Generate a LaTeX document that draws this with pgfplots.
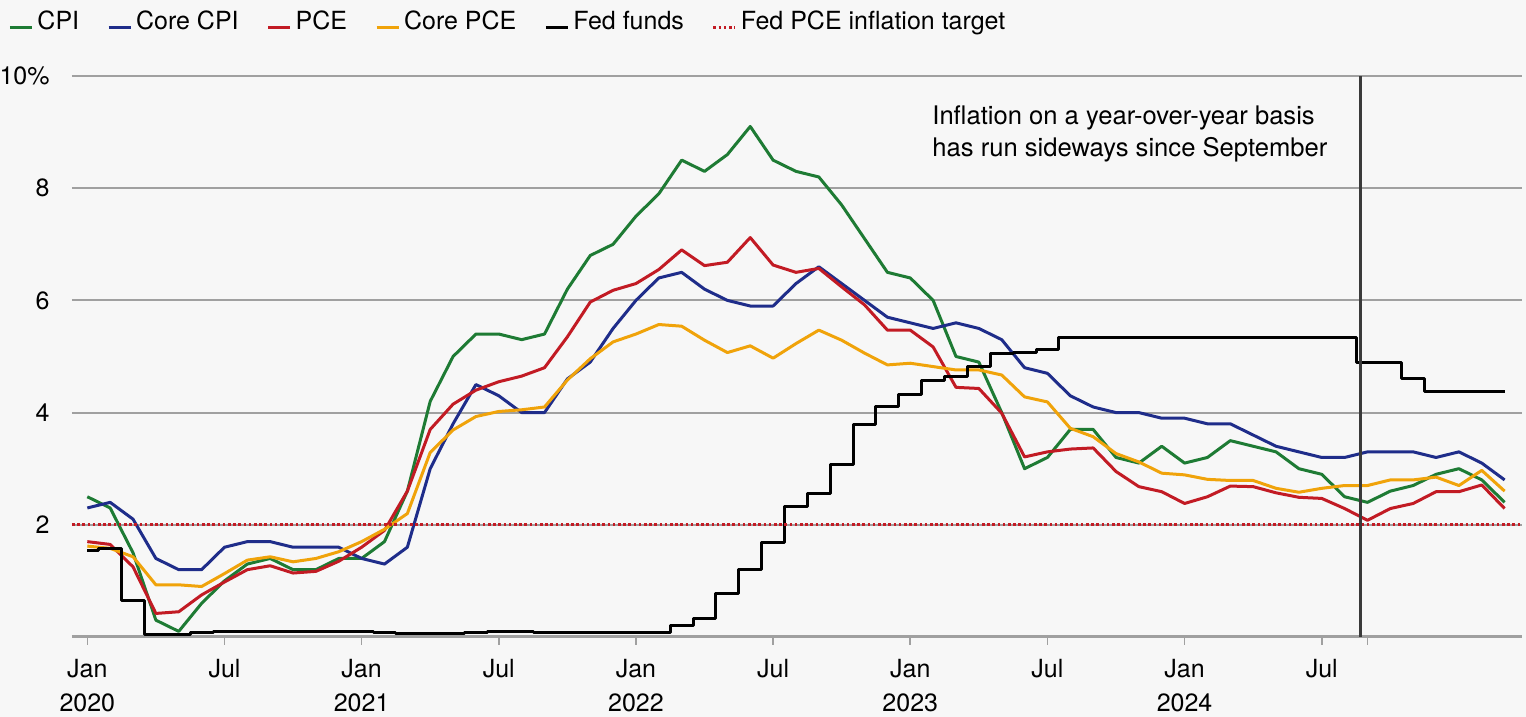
\documentclass[border=0pt]{standalone}
\usepackage{fontspec}
\setmainfont{TeX Gyre Heros}
\usepackage{pgfplots}
\usepackage{pgfplotstable}
\pgfplotsset{compat=1.18}
\definecolor{cpi}{HTML}{1E7B34}
\definecolor{corecpi}{HTML}{1F2D8A}
\definecolor{pce}{HTML}{C21B24}
\definecolor{cpce}{HTML}{F0A30A}
\definecolor{bg}{HTML}{F7F7F7}
\definecolor{gridc}{HTML}{A0A0A0}
\definecolor{vline}{HTML}{3A3A3A}

\pgfplotstableread{
m cpi core pce cpce ff
0 2.5 2.3 1.70 1.62 1.55
1 2.3 2.4 1.65 1.58 1.58
2 1.5 2.1 1.25 1.43 0.65
3 0.3 1.4 0.42 0.93 0.05
4 0.1 1.2 0.45 0.93 0.05
5 0.6 1.2 0.75 0.90 0.08
6 1.0 1.6 0.98 1.13 0.09
7 1.3 1.7 1.20 1.37 0.10
8 1.4 1.7 1.27 1.43 0.09
9 1.2 1.6 1.14 1.34 0.09
10 1.2 1.6 1.17 1.40 0.09
11 1.4 1.6 1.35 1.52 0.09
12 1.4 1.4 1.60 1.70 0.09
13 1.7 1.3 1.90 1.92 0.08
14 2.6 1.6 2.60 2.20 0.07
15 4.2 3.0 3.70 3.29 0.07
16 5.0 3.8 4.15 3.69 0.06
17 5.4 4.5 4.40 3.93 0.08
18 5.4 4.3 4.55 4.02 0.10
19 5.3 4.0 4.65 4.05 0.09
20 5.4 4.0 4.80 4.10 0.08
21 6.2 4.6 5.35 4.58 0.08
22 6.8 4.9 5.97 4.96 0.08
23 7.0 5.5 6.18 5.26 0.08
24 7.5 6.0 6.30 5.40 0.08
25 7.9 6.4 6.55 5.57 0.08
26 8.5 6.5 6.90 5.54 0.20
27 8.3 6.2 6.62 5.29 0.33
28 8.6 6.0 6.68 5.07 0.77
29 9.1 5.9 7.12 5.19 1.21
30 8.5 5.9 6.63 4.97 1.68
31 8.3 6.3 6.50 5.23 2.33
32 8.2 6.6 6.57 5.47 2.56
33 7.7 6.3 6.24 5.29 3.08
34 7.1 6.0 5.92 5.06 3.78
35 6.5 5.7 5.47 4.85 4.10
36 6.4 5.6 5.47 4.88 4.33
37 6.0 5.5 5.17 4.82 4.57
38 5.0 5.6 4.45 4.76 4.65
39 4.9 5.5 4.43 4.76 4.83
40 4.0 5.3 3.99 4.67 5.06
41 3.0 4.8 3.21 4.28 5.08
42 3.2 4.7 3.30 4.19 5.12
43 3.7 4.3 3.35 3.72 5.33
44 3.7 4.1 3.37 3.57 5.33
45 3.2 4.0 2.95 3.27 5.33
46 3.1 4.0 2.68 3.12 5.33
47 3.4 3.9 2.59 2.92 5.33
48 3.1 3.9 2.38 2.89 5.33
49 3.2 3.8 2.50 2.81 5.33
50 3.5 3.8 2.69 2.79 5.33
51 3.4 3.6 2.68 2.79 5.33
52 3.3 3.4 2.57 2.65 5.33
53 3.0 3.3 2.49 2.58 5.33
54 2.9 3.2 2.47 2.65 5.33
55 2.5 3.2 2.29 2.70 5.33
56 2.4 3.3 2.08 2.70 4.89
57 2.6 3.3 2.29 2.80 4.89
58 2.7 3.3 2.38 2.80 4.61
59 2.9 3.2 2.59 2.85 4.37
60 3.0 3.3 2.59 2.70 4.37
61 2.8 3.1 2.71 2.97 4.37
62 2.4 2.8 2.29 2.60 4.37
}\data

\begin{document}
\begin{tikzpicture}[font=\fontsize{12.5}{17}\selectfont]
\fill[bg] (-36pt,-40pt) rectangle (727pt,318.5pt);
\begin{axis}[
  at={(0pt,0pt)}, anchor=south west,
  scale only axis, width=725pt, height=280.5pt,
  xmin=-0.67, xmax=62.76, ymin=0, ymax=10,
  axis lines*=left, axis line style={-},
  x axis line style={gridc, line width=1.5pt},
  y axis line style={draw=none},
  ytick={2,4,6,8,10}, yticklabels={2,4,6,8,10\%},
  ytick style={draw=none},
  yticklabel style={anchor=east, inner sep=0pt, xshift=-7pt},
  ymajorgrids, grid style={gridc, line width=1pt},
  xtick={0,6,12,18,24,30,36,42,48,54,56},
  xticklabels={{Jan\\2020},Jul,{Jan\\2021},Jul,{Jan\\2022},Jul,{Jan\\2023},Jul,{Jan\\2024},Jul,{}},
  xticklabel style={align=center, anchor=north, inner sep=0pt, yshift=-7pt, font=\fontsize{12.5}{17}\selectfont},
  tick align=outside, major tick length=4pt,
  xtick style={gridc, line width=0.8pt},
  legend style={at={(-0.0441,1.0963)}, anchor=west, draw=none, fill=none, inner sep=0pt,
    /tikz/every even column/.append style={column sep=12pt}},
  legend columns=-1,
  legend image code/.code={\draw[#1] (0pt,-3pt) -- (11pt,-3pt);},
  line join=round,
]
\addplot[cpi, line width=1.5pt] table[x=m,y=cpi]{\data};
\addlegendentry{CPI}
\addplot[corecpi, line width=1.5pt] table[x=m,y=core]{\data};
\addlegendentry{Core CPI}
\addplot[pce, line width=1.5pt] table[x=m,y=pce]{\data};
\addlegendentry{PCE}
\addplot[cpce, line width=1.5pt] table[x=m,y=cpce]{\data};
\addlegendentry{Core PCE}
\addplot[black, line width=1.5pt, const plot mark mid] table[x=m,y=ff]{\data};
\addlegendentry{Fed funds}
\addplot[pce, line width=1.5pt, dash pattern=on 1.3pt off 1.3pt] coordinates {(-0.67,2) (62.76,2)};
\addlegendentry{Fed PCE inflation target}
\addplot[vline, line width=1.5pt, forget plot] coordinates {(55.7,0) (55.7,10)};
\node[anchor=west, align=left, inner sep=0pt, font=\fontsize{12.8}{16}\selectfont] at (axis cs:36.95,8.97) {Inflation on a year-over-year basis\\has run sideways since September};
\end{axis}
\pgfresetboundingbox
\useasboundingbox (-36pt,-40pt) rectangle (727pt,318.5pt);
\end{tikzpicture}
\end{document}
